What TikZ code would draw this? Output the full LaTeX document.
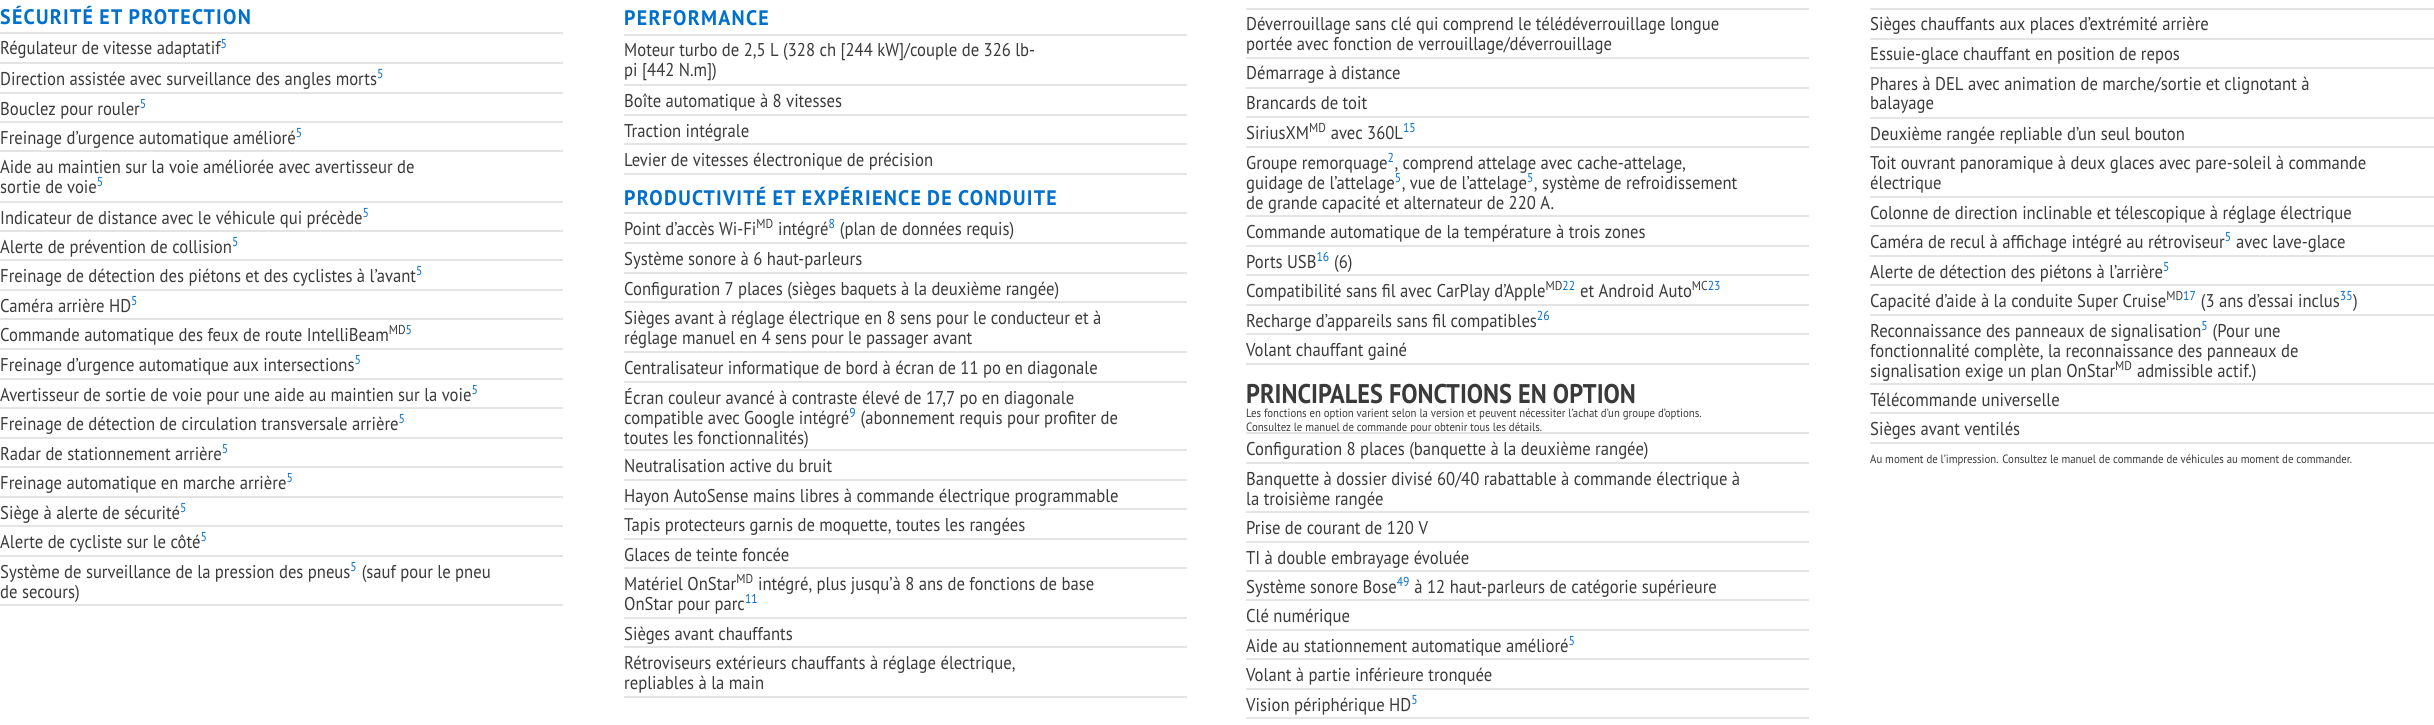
\documentclass[tikz,border=0pt]{standalone}
\usepackage{fontspec}
\setmainfont{PT Sans}[FakeStretch=0.9]
\newfontfamily\headfont{PT Sans}[FakeStretch=0.95,LetterSpace=6]
\definecolor{hblue}{HTML}{0070CC}
\definecolor{txtc}{HTML}{3A3A3A}
\definecolor{sepc}{HTML}{E4E4E4}
\newcount\nc
\newcommand\fn[1]{\textsuperscript{\textcolor{hblue}{#1}}}
\newcommand\mdk{\textsuperscript{MD}}
\newcommand\tl[3]{\global\advance\nc by 1 \node[txt] (t\the\nc) at (#1,#2) {#3};}
\newcommand\seps[3]{\foreach \yy [count=\k] in {#3} {\draw[sepline] (#1,\yy) coordinate (s#1-\k) -- (#2,\yy);}}
\begin{document}
\begin{tikzpicture}[x=1pt,y=-1pt,
  txt/.style={anchor=base west,inner sep=0pt,text=txtc,font=\fontsize{18.5}{20}\selectfont},
  head/.style={anchor=base west,inner sep=0pt,text=hblue,font=\headfont\bfseries\fontsize{21}{22}\selectfont},
  note/.style={anchor=base west,inner sep=0pt,text=txtc,font=\fontsize{12}{13}\selectfont},
  sepline/.style={draw=sepc,line width=1.4pt}]
\useasboundingbox[fill=white] (0,0) rectangle (2434,725);
% ---------- column 1
\node[head] (h1) at (0,25) {SÉCURITÉ ET PROTECTION};
\seps{0}{563}{33,63,93,122,151,202,231,260,290,319,349,379,408,438,467,497,526,556,605}
\tl{0}{55}{Régulateur de vitesse adaptatif\fn{5}}
\tl{0}{85}{Direction assistée avec surveillance des angles morts\fn{5}}
\tl{0}{115}{Bouclez pour rouler\fn{5}}
\tl{0}{144}{Freinage d'urgence automatique amélioré\fn{5}}
\tl{0}{173}{Aide au maintien sur la voie améliorée avec avertisseur de}
\tl{0}{193}{sortie de voie\fn{5}}
\tl{0}{224}{Indicateur de distance avec le véhicule qui précède\fn{5}}
\tl{0}{253}{Alerte de prévention de collision\fn{5}}
\tl{0}{282}{Freinage de détection des piétons et des cyclistes à l'avant\fn{5}}
\tl{0}{312}{Caméra arrière HD\fn{5}}
\tl{0}{341}{Commande automatique des feux de route IntelliBeam\textsuperscript{MD\textcolor{hblue}{5}}}
\tl{0}{371}{Freinage d'urgence automatique aux intersections\fn{5}}
\tl{0}{401}{Avertisseur de sortie de voie pour une aide au maintien sur la voie\fn{5}}
\tl{0}{430}{Freinage de détection de circulation transversale arrière\fn{5}}
\tl{0}{460}{Radar de stationnement arrière\fn{5}}
\tl{0}{489}{Freinage automatique en marche arrière\fn{5}}
\tl{0}{519}{Siège à alerte de sécurité\fn{5}}
\tl{0}{548}{Alerte de cycliste sur le côté\fn{5}}
\tl{0}{578}{Système de surveillance de la pression des pneus\fn{5} (sauf pour le pneu}
\tl{0}{598}{de secours)}
% ---------- column 2
\node[head] (h2) at (624,26) {PERFORMANCE};
\seps{624}{1187}{35,85,115,144,174}
\tl{624}{57}{Moteur turbo de 2,5 L (328 ch [244 kW]/couple de 326 lb-}
\tl{624}{77}{pi [442 N.m])}
\tl{624}{107}{Boîte automatique à 8 vitesses}
\tl{624}{137}{Traction intégrale}
\tl{624}{166}{Levier de vitesses électronique de précision}
\node[head] (h3) at (624,205) {PRODUCTIVITÉ ET EXPÉRIENCE DE CONDUITE};
\seps{624}{1187}{213,243,273,302,352,382,450,480,509,539,568,618,647,697}
\tl{624}{235}{Point d'accès Wi-Fi\mdk{} intégré\fn{8} (plan de données requis)}
\tl{624}{265}{Système sonore à 6 haut-parleurs}
\tl{624}{295}{Configuration 7 places (sièges baquets à la deuxième rangée)}
\tl{624}{324}{Sièges avant à réglage électrique en 8 sens pour le conducteur et à}
\tl{624}{344}{réglage manuel en 4 sens pour le passager avant}
\tl{624}{374}{Centralisateur informatique de bord à écran de 11 po en diagonale}
\tl{624}{404}{Écran couleur avancé à contraste élevé de 17,7 po en diagonale}
\tl{624}{424}{compatible avec Google intégré\fn{9} (abonnement requis pour profiter de}
\tl{624}{444}{toutes les fonctionnalités)}
\tl{624}{472}{Neutralisation active du bruit}
\tl{624}{502}{Hayon AutoSense mains libres à commande électrique programmable}
\tl{624}{531}{Tapis protecteurs garnis de moquette, toutes les rangées}
\tl{624}{561}{Glaces de teinte foncée}
\tl{624}{590}{Matériel OnStar\mdk{} intégré, plus jusqu'à 8 ans de fonctions de base}
\tl{624}{610}{OnStar pour parc\fn{11}}
\tl{624}{640}{Sièges avant chauffants}
\tl{624}{669}{Rétroviseurs extérieurs chauffants à réglage électrique,}
\tl{624}{689}{repliables à la main}
% ---------- column 3
\seps{1246}{1809}{9,58,88,117,147,216,246,275,305,334,364}
\tl{1246}{31}{Déverrouillage sans clé qui comprend le télédéverrouillage longue}
\tl{1246}{51}{portée avec fonction de verrouillage/déverrouillage}
\tl{1246}{80}{Démarrage à distance}
\tl{1246}{110}{Brancards de toit}
\tl{1246}{139}{SiriusXM\mdk{} avec 360L\fn{15}}
\tl{1246}{169}{Groupe remorquage\fn{2}, comprend attelage avec cache-attelage,}
\tl{1246}{189}{guidage de l'attelage\fn{5}, vue de l'attelage\fn{5}, système de refroidissement}
\tl{1246}{209}{de grande capacité et alternateur de 220 A.}
\tl{1246}{238}{Commande automatique de la température à trois zones}
\tl{1246}{268}{Ports USB\fn{16} (6)}
\tl{1246}{297}{Compatibilité sans fil avec CarPlay d'Apple\textsuperscript{MD\textcolor{hblue}{22}} et Android Auto\textsuperscript{MC\textcolor{hblue}{23}}}
\tl{1246}{327}{Recharge d'appareils sans fil compatibles\fn{26}}
\tl{1246}{356}{Volant chauffant gainé}
\node[anchor=base west,inner sep=0pt,text=txtc,font=\bfseries\fontsize{27}{28}\selectfont] (h4) at (1246,403) {PRINCIPALES FONCTIONS EN OPTION};
\node[note] (n1) at (1246,417) {Les fonctions en option varient selon la version et peuvent nécessiter l'achat d'un groupe d'options.};
\node[note] (n2) at (1246,431) {Consultez le manuel de commande pour obtenir tous les détails.};
\seps{1246}{1809}{433,463,512,542,571,600,630,659,689,718}
\tl{1246}{455}{Configuration 8 places (banquette à la deuxième rangée)}
\tl{1246}{485}{Banquette à dossier divisé 60/40 rabattable à commande électrique à}
\tl{1246}{505}{la troisième rangée}
\tl{1246}{534}{Prise de courant de 120 V}
\tl{1246}{564}{TI à double embrayage évoluée}
\tl{1246}{593}{Système sonore Bose\fn{49} à 12 haut-parleurs de catégorie supérieure}
\tl{1246}{622}{Clé numérique}
\tl{1246}{652}{Aide au stationnement automatique amélioré\fn{5}}
\tl{1246}{681}{Volant à partie inférieure tronquée}
\tl{1246}{711}{Vision périphérique HD\fn{5}}
% ---------- column 4
\seps{1870}{2434}{9,39,68,118,147,197,226,256,285,315,384,413,443}
\tl{1870}{31}{Sièges chauffants aux places d'extrémité arrière}
\tl{1870}{61}{Essuie-glace chauffant en position de repos}
\tl{1870}{90}{Phares à DEL avec animation de marche/sortie et clignotant à}
\tl{1870}{110}{balayage}
\tl{1870}{140}{Deuxième rangée repliable d'un seul bouton}
\tl{1870}{169}{Toit ouvrant panoramique à deux glaces avec pare-soleil à commande}
\tl{1870}{189}{électrique}
\tl{1870}{219}{Colonne de direction inclinable et télescopique à réglage électrique}
\tl{1870}{248}{Caméra de recul à affichage intégré au rétroviseur\fn{5} avec lave-glace}
\tl{1870}{278}{Alerte de détection des piétons à l'arrière\fn{5}}
\tl{1870}{307}{Capacité d'aide à la conduite Super Cruise\textsuperscript{MD\textcolor{hblue}{17}} (3 ans d'essai inclus\fn{35})}
\tl{1870}{337}{Reconnaissance des panneaux de signalisation\fn{5} (Pour une}
\tl{1870}{357}{fonctionnalité complète, la reconnaissance des panneaux de}
\tl{1870}{377}{signalisation exige un plan OnStar\mdk{} admissible actif.)}
\tl{1870}{406}{Télécommande universelle}
\tl{1870}{435}{Sièges avant ventilés}
\node[note] (n3) at (1870,463) {Au moment de l'impression. Consultez le manuel de commande de véhicules au moment de commander.};
\end{tikzpicture}
\end{document}
